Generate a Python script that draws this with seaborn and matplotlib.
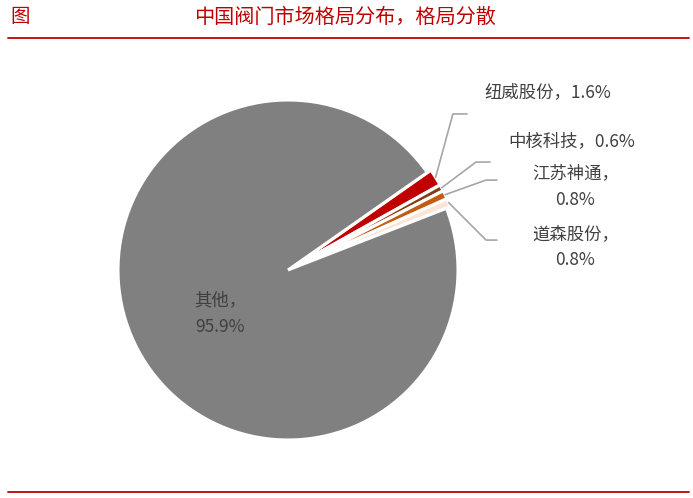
import numpy as np
import matplotlib
matplotlib.use("Agg")
import matplotlib.pyplot as plt
import seaborn as sns

# 数据
companies = ["纽威股份", "中核科技", "江苏神通", "道森股份", "其他"]
shares = [1.6, 0.6, 0.8, 0.8, 95.9]
label_texts = ["纽威股份，1.6%", "中核科技，0.6%", "江苏神通，\n0.8%", "道森股份，\n0.8%", "其他，\n95.9%"]
colors = ["#C00000", "#843C0C", "#C55A11", "#FBE5D6", "#808080"]

sns.set_style("white")
plt.rcParams["font.family"] = ["Noto Sans CJK SC", "DejaVu Sans"]

W, H = 693, 498
fig = plt.figure(figsize=(W / 100, H / 100), dpi=100)

# 饼图中心 (288, 270) 像素，半径 170 像素
cx, cy, r = 288, 270, 170
ax = fig.add_axes([(cx - r) / W, (H - cy - r) / H, 2 * r / W, 2 * r / H])

wedges, _ = ax.pie(shares, colors=colors, startangle=35, counterclock=False,
                   radius=1.0, explode=[0.025, 0.025, 0.025, 0.025, 0.0],
                   wedgeprops=dict(edgecolor="white", linewidth=2.2))
ax.set_xlim(-1, 1)
ax.set_ylim(-1, 1)
ax.set_aspect("equal")
ax.axis("off")

# 标签位置（数据坐标）
label_pos = [(1.53, 1.045), (1.67, 0.76), (1.69, 0.49), (1.69, 0.135)]
elbows = [(0.97, 0.918), (1.106, 0.635), (1.165, 0.529), (1.165, 0.176)]
ends = [(1.053, 0.918), (1.188, 0.635), (1.229, 0.529), (1.229, 0.176)]

for i in range(4):
    w = wedges[i]
    ang = np.deg2rad((w.theta1 + w.theta2) / 2)
    sx, sy = w.center[0] + 1.0 * np.cos(ang), w.center[1] + 1.0 * np.sin(ang)
    ex, ey = elbows[i]
    fx, fy = ends[i]
    ax.plot([sx, ex, fx], [sy, ey, fy], color="#A6A6A6", lw=1.2, clip_on=False)
    ax.text(label_pos[i][0], label_pos[i][1], label_texts[i], ha="center", va="center",
            fontsize=12.5, color="#404040", linespacing=1.6, clip_on=False)

ax.text(-0.4, -0.255, label_texts[4], ha="center", va="center",
        fontsize=12.5, color="#404040", linespacing=1.6)

# 标题与上下分隔线
red = "#C00000"
fig.text(10 / W, 1 - 17 / H, "图", fontsize=14, color=red, ha="left", va="center")
fig.text(345 / W, 1 - 17 / H, "中国阀门市场格局分布，格局分散", fontsize=14.5, color=red,
         ha="center", va="center")
fig.add_artist(plt.Line2D([8 / W, 689 / W], [1 - 38 / H, 1 - 38 / H], color=red, lw=1.3))
fig.add_artist(plt.Line2D([8 / W, 689 / W], [1 - 492 / H, 1 - 492 / H], color=red, lw=1.3))

fig.savefig("out.png", dpi=100)
